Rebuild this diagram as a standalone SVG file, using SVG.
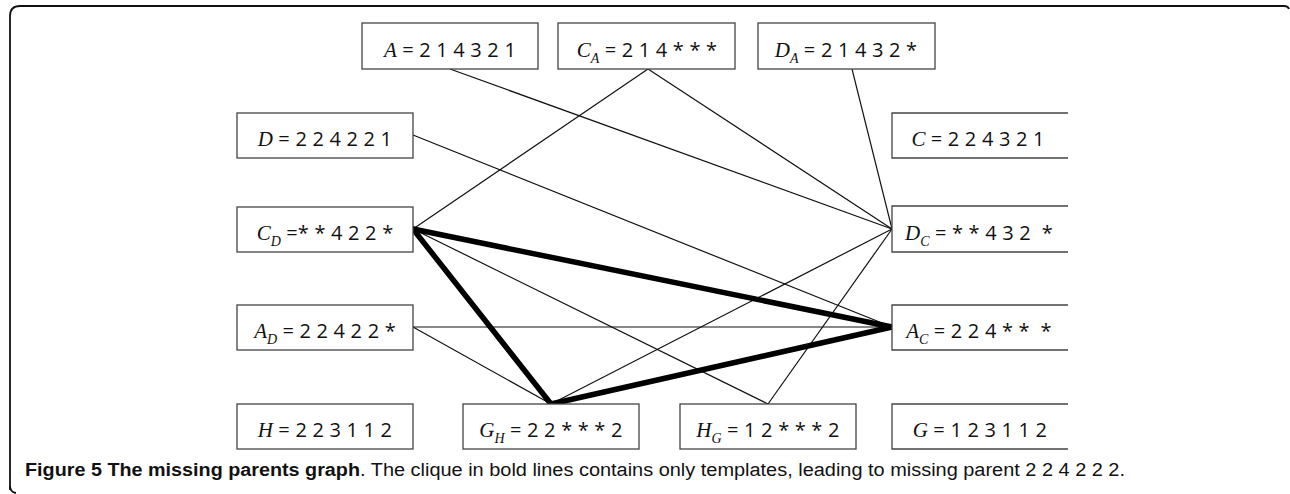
<svg xmlns="http://www.w3.org/2000/svg" width="1290" height="494" viewBox="0 0 1290 494">
<style>
.frame{fill:none;stroke:#111;stroke-width:1.8}
.box{fill:#fff;stroke:#444;stroke-width:1.3}
.thin{stroke:#111;stroke-width:1.2;fill:none}
.bold{stroke:#000;stroke-width:5.5;fill:none;stroke-linecap:round}
.t{font-family:"Open Sans","Liberation Sans",sans-serif;font-size:20px;letter-spacing:0.2px;fill:#111}
.v{font-family:"Liberation Serif",serif;font-style:italic;font-size:21px;letter-spacing:0}
.s{font-family:"Liberation Serif",serif;font-style:italic;font-size:14px;letter-spacing:0}
.cap{font-family:"Liberation Sans",sans-serif;font-size:18px;fill:#111}
</style>
<path class="frame" d="M10,490 V16 Q10,6 20,6 H1284 Q1288,6 1289,9"/>
<path class="frame" d="M10,486 Q10,492 16,493"/>
<g id="connectors">
<line class="thin" x1="450" y1="69" x2="892" y2="229"/>
<line class="thin" x1="648" y1="69" x2="892" y2="229"/>
<line class="thin" x1="648" y1="69" x2="413" y2="229"/>
<line class="thin" x1="852" y1="69" x2="892" y2="229"/>
<line class="thin" x1="413" y1="135" x2="892" y2="327"/>
<line class="thin" x1="413" y1="229" x2="768" y2="404"/>
<line class="thin" x1="413" y1="327" x2="892" y2="327"/>
<line class="thin" x1="413" y1="327" x2="551" y2="404"/>
<line class="thin" x1="551" y1="404" x2="892" y2="229"/>
<line class="thin" x1="768" y1="404" x2="892" y2="229"/>
<line class="bold" x1="413" y1="229" x2="892" y2="327"/>
<line class="bold" x1="413" y1="229" x2="551" y2="404"/>
<line class="bold" x1="551" y1="404" x2="892" y2="327"/>
</g>
<g id="node-A"><rect class="box" x="362" y="23" width="176" height="46"/>
<text class="t" x="450" y="57" text-anchor="middle"><tspan class="v">A</tspan> = 2 1 4 3 2 1</text></g>
<g id="node-CA"><rect class="box" x="558" y="23" width="177" height="46"/>
<text class="t" x="647" y="57" text-anchor="middle"><tspan class="v">C</tspan><tspan class="s" dy="6">A</tspan><tspan dy="-6"> = 2 1 4 * * *</tspan></text></g>
<g id="node-DA"><rect class="box" x="758" y="23" width="177" height="46"/>
<text class="t" x="846" y="57" text-anchor="middle"><tspan class="v">D</tspan><tspan class="s" dy="6">A</tspan><tspan dy="-6"> = 2 1 4 3 2 *</tspan></text></g>
<g id="node-D"><rect class="box" x="237" y="113" width="176" height="45"/>
<text class="t" x="325" y="146" text-anchor="middle"><tspan class="v">D</tspan> = 2 2 4 2 2 1</text></g>
<g id="node-C"><path class="box" d="M1068,113 H892 V158 H1068"/>
<text class="t" x="978" y="146" text-anchor="middle"><tspan class="v">C</tspan> = 2 2 4 3 2 1</text></g>
<g id="node-CD"><rect class="box" x="237" y="207" width="176" height="45"/>
<text class="t" x="325" y="240" text-anchor="middle"><tspan class="v">C</tspan><tspan class="s" dy="6">D</tspan><tspan dy="-6"> =* * 4 2 2 *</tspan></text></g>
<g id="node-DC"><path class="box" d="M1068,206 H892 V252 H1068"/>
<text class="t" x="979" y="240" text-anchor="middle" xml:space="preserve"><tspan class="v">D</tspan><tspan class="s" dy="6">C</tspan><tspan dy="-6"> = * * 4 3 2  *</tspan></text></g>
<g id="node-AD"><rect class="box" x="237" y="305" width="176" height="45"/>
<text class="t" x="325" y="338" text-anchor="middle"><tspan class="v">A</tspan><tspan class="s" dy="6">D</tspan><tspan dy="-6"> = 2 2 4 2 2 *</tspan></text></g>
<g id="node-AC"><path class="box" d="M1068,305 H892 V350 H1068"/>
<text class="t" x="979" y="338" text-anchor="middle" xml:space="preserve"><tspan class="v">A</tspan><tspan class="s" dy="6">C</tspan><tspan dy="-6"> = 2 2 4 * *  *</tspan></text></g>
<g id="node-H"><rect class="box" x="237" y="404" width="176" height="45"/>
<text class="t" x="325" y="437" text-anchor="middle"><tspan class="v">H</tspan> = 2 2 3 1 1 2</text></g>
<g id="node-GH"><rect class="box" x="463" y="404" width="176" height="45"/>
<text class="t" x="551" y="437" text-anchor="middle"><tspan class="v">G</tspan><tspan class="s" dy="6">H</tspan><tspan dy="-6"> = 2 2 * * * 2</tspan></text></g>
<g id="node-HG"><rect class="box" x="680" y="404" width="176" height="45"/>
<text class="t" x="768" y="437" text-anchor="middle"><tspan class="v">H</tspan><tspan class="s" dy="6">G</tspan><tspan dy="-6"> = 1 2 * * * 2</tspan></text></g>
<g id="node-G"><path class="box" d="M1068,404 H892 V449 H1068"/>
<text class="t" x="980" y="437" text-anchor="middle"><tspan class="v">G</tspan> = 1 2 3 1 1 2</text></g>
<text class="cap" x="25" y="476" font-weight="bold" textLength="335" lengthAdjust="spacingAndGlyphs">Figure 5 The missing parents graph</text>
<text class="cap" x="360" y="476" textLength="765" lengthAdjust="spacingAndGlyphs">. The clique in bold lines contains only templates, leading to missing parent 2 2 4 2 2 2.</text>
</svg>
